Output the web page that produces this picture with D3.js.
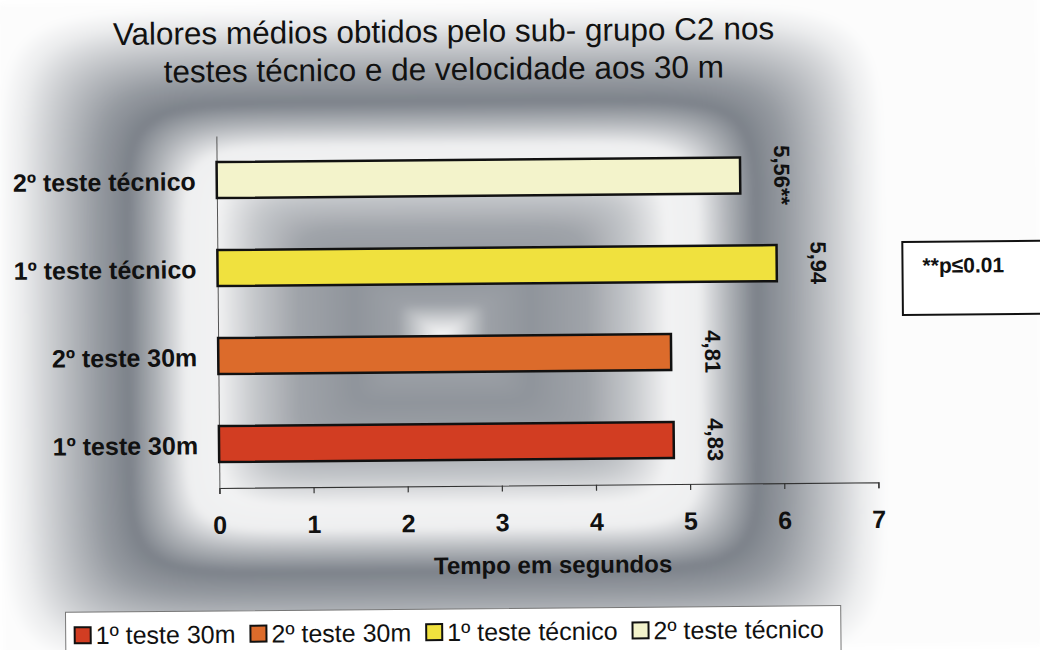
<!DOCTYPE html>
<html>
<head>
<meta charset="utf-8">
<script src="https://cdn.jsdelivr.net/npm/d3@7"></script>
<style>
  html, body { margin: 0; padding: 0; background: #ffffff; }
  svg { display: block; }
  text { font-family: "Liberation Sans", Arial, sans-serif; fill: #111; }
</style>
</head>
<body>
<svg id="chart" width="1040" height="650"></svg>
<script>
// ---------------- data ----------------
const categories = ["1º teste 30m", "2º teste 30m", "1º teste técnico", "2º teste técnico"];
const values = [4.83, 4.81, 5.94, 5.56];
const valueLabels = ["4,83", "4,81", "5,94", "5,56**"];
const barColors = ["#d23d22", "#dc6b2b", "#f0e13e", "#f3f3cb"];
const xTicks = [0, 1, 2, 3, 4, 5, 6, 7];
const titleLines = ["Valores médios obtidos pelo sub- grupo C2 nos", "testes técnico e de velocidade aos 30 m"];
const xAxisTitle = "Tempo em segundos";
const noteText = "**p≤0.01";

// ---------------- setup ----------------
const W = 1040, H = 650;
const svg = d3.select("#chart");
const root = svg.append("g").attr("transform", "rotate(-0.5, 450, 325)");

// ---------------- background (rectangular "from centre" gradient) ----------------
(function drawBackground() {
  const cv = document.createElement("canvas");
  cv.width = W; cv.height = H;
  const ctx = cv.getContext("2d");
  const img = ctx.createImageData(W, H);
  const cx = 442, cy = 336, a = 442, b = 330, p = 9;
  const light = d3.scaleLinear()
    .domain([0.00, 0.04, 0.10, 0.20, 0.33, 0.43, 0.51, 0.58, 0.65, 0.71, 0.78, 0.88, 0.95, 1.00])
    .range( [0.97, 0.78, 0.40, 0.32, 0.42, 0.66, 0.92, 0.90, 0.50, 0.20, 0.36, 0.66, 0.88, 0.98])
    .clamp(true);
  const col = d3.interpolateRgb("#5b626c", "#ffffff");
  const cache = new Map();
  for (let y = 0; y < H; y++) {
    for (let x = 0; x < W; x++) {
      const dx = Math.abs(x - cx) / a, dy = Math.abs(y - cy) / b;
      const t = Math.pow(Math.pow(dx, p) + Math.pow(dy, p), 1 / p);
      const key = Math.round(t * 400);
      let c = cache.get(key);
      if (!c) { c = d3.rgb(col(light(key / 400))); cache.set(key, c); }
      const i = (y * W + x) * 4;
      img.data[i] = c.r; img.data[i + 1] = c.g; img.data[i + 2] = c.b; img.data[i + 3] = 255;
    }
  }
  ctx.putImageData(img, 0, 0);
  const defs = svg.append("defs");
  defs.append("filter").attr("id", "soft").attr("x", "-5%").attr("y", "-5%").attr("width", "110%").attr("height", "110%")
    .append("feGaussianBlur").attr("stdDeviation", 3);
  root.append("image")
    .attr("x", 0).attr("y", 0).attr("width", W).attr("height", H)
    .attr("href", cv.toDataURL())
    .attr("filter", "url(#soft)");
})();

// ---------------- scales ----------------
const plot = { left: 218, right: 877, top: 134, bottom: 486 };
const x = d3.scaleLinear().domain([0, 7]).range([plot.left, plot.right]);
const yOrder = categories.slice().reverse();
const y = d3.scaleBand().domain(yOrder).range([plot.top, plot.bottom]).paddingInner(0.59).paddingOuter(0.295);

// ---------------- title ----------------
root.append("g").selectAll("text").data(titleLines).join("text")
  .attr("x", 446)
  .attr("y", (d, i) => 42 + i * 38)
  .attr("text-anchor", "middle")
  .style("font-size", "31.5px")
  .text(d => d);

// ---------------- axes ----------------
const xAxis = root.append("g")
  .attr("transform", `translate(0,${plot.bottom})`)
  .call(d3.axisBottom(x).tickValues(xTicks).tickFormat(d3.format("d")).tickSize(6).tickSizeOuter(6).tickPadding(22));
xAxis.attr("font-family", null).attr("font-size", null);
xAxis.select(".domain").attr("stroke", "#333").attr("stroke-width", 1.2);
xAxis.selectAll(".tick line").attr("stroke", "#333").attr("stroke-width", 1.2);
xAxis.selectAll(".tick text")
  .style("font-size", "25px").style("font-weight", "bold")
  .attr("fill", "#111");

const yAxis = root.append("g")
  .attr("transform", `translate(${plot.left},0)`)
  .call(d3.axisLeft(y).tickSize(0).tickSizeOuter(0).tickPadding(21));
yAxis.attr("font-family", null).attr("font-size", null);
yAxis.select(".domain").attr("stroke", "#555").attr("stroke-width", 1);
yAxis.selectAll(".tick text")
  .style("font-size", "25px").style("font-weight", "bold")
  .attr("dy", "0.4em").attr("fill", "#111");

// ---------------- bars ----------------
const rows = categories.map((c, i) => ({ cat: c, value: values[i], label: valueLabels[i], color: barColors[i] }));
root.append("g").selectAll("rect").data(rows).join("rect")
  .attr("x", x(0))
  .attr("y", d => y(d.cat))
  .attr("width", d => x(d.value) - x(0))
  .attr("height", y.bandwidth())
  .attr("fill", d => d.color)
  .attr("stroke", "#111")
  .attr("stroke-width", 2.5);

// value labels (rotated, reading downwards)
root.append("g").selectAll("text").data(rows).join("text")
  .attr("transform", d => `translate(${x(d.value) + 34},${y(d.cat) + y.bandwidth() / 2}) rotate(90)`)
  .attr("text-anchor", "middle")
  .style("font-size", "22px").style("font-weight", "bold")
  .text(d => d.label);

// axis title
root.append("text")
  .attr("x", 551).attr("y", 574)
  .attr("text-anchor", "middle")
  .style("font-size", "24px").style("font-weight", "bold")
  .text(xAxisTitle);

// ---------------- note box ----------------
root.append("rect")
  .attr("x", 903).attr("y", 246).attr("width", 160).attr("height", 73)
  .attr("fill", "#fff").attr("stroke", "#111").attr("stroke-width", 2);
root.append("text")
  .attr("x", 923).attr("y", 277)
  .style("font-size", "21px").style("font-weight", "bold")
  .text(noteText);

// ---------------- legend ----------------
const legend = root.append("g");
const legendBox = legend.append("rect")
  .attr("x", 63).attr("y", 609).attr("height", 60)
  .attr("fill", "#fff").attr("stroke", "#777").attr("stroke-width", 1);
let lx = 72;
rows.forEach(d => {
  legend.append("rect")
    .attr("x", lx).attr("y", 624).attr("width", 16).attr("height", 16)
    .attr("fill", d.color).attr("stroke", "#111").attr("stroke-width", 2);
  const t = legend.append("text")
    .attr("x", lx + 21).attr("y", 641)
    .style("font-size", "25px")
    .text(d.cat);
  lx = lx + 21 + t.node().getComputedTextLength() + 15;
});
legendBox.attr("width", lx + 2 - 63);
</script>
</body>
</html>
